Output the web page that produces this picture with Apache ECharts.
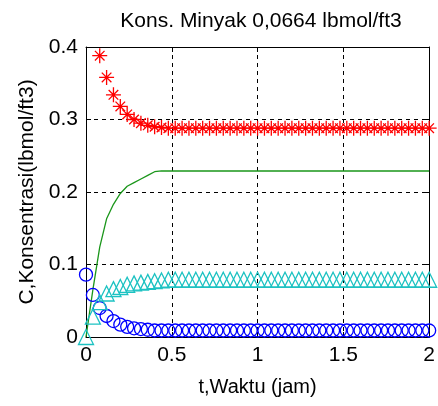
<!DOCTYPE html>
<html>
<head>
<meta charset="utf-8">
<script src="https://cdn.jsdelivr.net/npm/echarts@6/dist/echarts.min.js"></script>
<style>
  html, body { margin: 0; padding: 0; background: #fff; }
  #chart { width: 438px; height: 406px; }
</style>
</head>
<body>
<div id="chart"></div>
<script>
// waktu (jam)
const tJam = [
  0, 0.04, 0.08, 0.12, 0.16, 0.20, 0.24, 0.28, 0.32, 0.36,
  0.40, 0.44, 0.48, 0.52, 0.56, 0.60, 0.64, 0.68, 0.72, 0.76,
  0.80, 0.84, 0.88, 0.92, 0.96, 1.00, 1.04, 1.08, 1.12, 1.16,
  1.20, 1.24, 1.28, 1.32, 1.36, 1.40, 1.44, 1.48, 1.52, 1.56,
  1.60, 1.64, 1.68, 1.72, 1.76, 1.80, 1.84, 1.88, 1.92, 1.96, 2.00
]

// konsentrasi tiap komponen (null = di luar sumbu)
const cMerah = [
  null, null, 0.388, 0.358, 0.334, 0.318, 0.307, 0.300, 0.295, 0.292,
  0.290, 0.289, 0.288, 0.288, 0.288, 0.288, 0.288, 0.288, 0.288, 0.288,
  0.288, 0.288, 0.288, 0.288, 0.288, 0.288, 0.288, 0.288, 0.288, 0.288,
  0.288, 0.288, 0.288, 0.288, 0.288, 0.288, 0.288, 0.288, 0.288, 0.288,
  0.288, 0.288, 0.288, 0.288, 0.288, 0.288, 0.288, 0.288, 0.288, 0.288, 0.288
]
const cHijau = [
  0, 0.065, 0.124, 0.163, 0.183, 0.198, 0.208, 0.213, 0.218, 0.223,
  0.228, 0.229, 0.229, 0.229, 0.229, 0.229, 0.229, 0.229, 0.229, 0.229,
  0.229, 0.229, 0.229, 0.229, 0.229, 0.229, 0.229, 0.229, 0.229, 0.229,
  0.229, 0.229, 0.229, 0.229, 0.229, 0.229, 0.229, 0.229, 0.229, 0.229,
  0.229, 0.229, 0.229, 0.229, 0.229, 0.229, 0.229, 0.229, 0.229, 0.229, 0.229
]
const cBiru = [
  0.086, 0.058, 0.040, 0.029, 0.022, 0.017, 0.014, 0.012, 0.011, 0.010,
  0.009, 0.009, 0.009, 0.009, 0.009, 0.009, 0.009, 0.009, 0.009, 0.009,
  0.009, 0.009, 0.009, 0.009, 0.009, 0.009, 0.009, 0.009, 0.009, 0.009,
  0.009, 0.009, 0.009, 0.009, 0.009, 0.009, 0.009, 0.009, 0.009, 0.009,
  0.009, 0.009, 0.009, 0.009, 0.009, 0.009, 0.009, 0.009, 0.009, 0.009, 0.009
]
const cCyan = [
  0, 0.028, 0.048, 0.060, 0.066, 0.069, 0.072, 0.074, 0.075, 0.076,
  0.077, 0.078, 0.079, 0.079, 0.079, 0.079, 0.079, 0.079, 0.079, 0.079,
  0.079, 0.079, 0.079, 0.079, 0.079, 0.079, 0.079, 0.079, 0.079, 0.079,
  0.079, 0.079, 0.079, 0.079, 0.079, 0.079, 0.079, 0.079, 0.079, 0.079,
  0.079, 0.079, 0.079, 0.079, 0.079, 0.079, 0.079, 0.079, 0.079, 0.079, 0.079
]

const FONT = 'Liberation Sans'
// asterisk ala matlab '*'
const STAR = 'path://M5,0L5,10M0,5L10,5M1.8,1.8L8.2,8.2M8.2,1.8L1.8,8.2'

const toPairs = (ys) => tJam.map((t, i) => [t, ys[i]]).filter(p => p[1] !== null)

const axisBase = (show) => ({
  axisLine: {show: true, onZero: false, lineStyle: {color: '#000', width: 1}},
  axisTick: {show: true, inside: true, length: 5, lineStyle: {color: '#000'}},
  axisLabel: {show: show, color: '#000', fontFamily: FONT, fontSize: 21},
})

const dashed = {show: true, lineStyle: {color: '#000', width: 1, type: [4, 4]}}

const markerSeries = (name, ys, symbol, color, size) => ({
  name: name,
  type: 'line',
  data: toPairs(ys),
  symbol: symbol,
  symbolSize: size,
  showSymbol: true,
  clip: false,
  lineStyle: {width: 0, opacity: 0},
  itemStyle: {color: 'rgba(0,0,0,0)', borderColor: color, borderWidth: 1.3},
  animation: false,
})

const buildOption = () => ({
  animation: false,
  title: {
    text: 'Kons. Minyak 0,0664 lbmol/ft3',
    left: 256,
    top: 6,
    textAlign: 'center',
    textStyle: {fontFamily: FONT, fontSize: 21, fontWeight: 'normal', color: '#000'}
  },
  grid: {left: 86, right: 6, top: 47, bottom: 69},
  xAxis: [
    {
      type: 'value', min: 0, max: 2, interval: 0.5, position: 'bottom',
      ...axisBase(true),
      splitLine: dashed,
      name: 't,Waktu (jam)',
      nameLocation: 'middle',
      nameGap: 40,
      nameTextStyle: {fontFamily: FONT, fontSize: 20, color: '#000'}
    },
    {
      type: 'value', min: 0, max: 2, interval: 0.5, position: 'top',
      ...axisBase(false),
      splitLine: {show: false}
    }
  ],
  yAxis: [
    {
      type: 'value', min: 0, max: 0.4, interval: 0.1, position: 'left',
      ...axisBase(true),
      splitLine: dashed,
      name: 'C,Konsentrasi(lbmol/ft3)',
      nameLocation: 'middle',
      nameGap: 48,
      nameTextStyle: {fontFamily: FONT, fontSize: 21, color: '#000'}
    },
    {
      type: 'value', min: 0, max: 0.4, interval: 0.1, position: 'right',
      ...axisBase(false),
      splitLine: {show: false}
    }
  ],
  series: [
    markerSeries('biru', cBiru, 'circle', '#0000ff', 13),
    markerSeries('cyan', cCyan, 'triangle', '#1cc2c2', 15),
    markerSeries('merah', cMerah, STAR, '#ff0000', 15),
    {
      name: 'hijau',
      type: 'line',
      data: toPairs(cHijau),
      symbol: 'none',
      clip: false,
      lineStyle: {color: '#1a961a', width: 1.3},
      animation: false,
    }
  ]
})

const chartInstance = echarts.init(document.getElementById('chart'), null, {renderer: 'canvas'})
chartInstance.setOption(buildOption())
</script>
</body>
</html>
